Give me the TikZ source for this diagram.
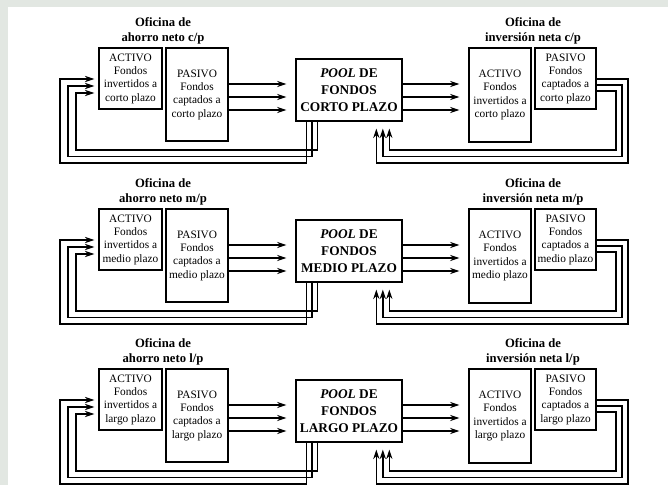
\documentclass[tikz,border=0pt]{standalone}
\usepackage{fontspec}
\setmainfont{Liberation Serif}
\usetikzlibrary{arrows.meta,calc}

\definecolor{scanedge}{RGB}{226,231,226}

\begin{document}
\begin{tikzpicture}[x=0.75pt,y=-0.75pt,
    box/.style={draw,line width=1pt,inner sep=0pt,align=center,
      font=\fontsize{8.5}{10}\selectfont},
    title/.style={align=center,font=\fontsize{9.5}{11}\selectfont\bfseries},
    poolbox/.style={box,font=\fontsize{10}{13}\selectfont\bfseries},
    flow/.style={line width=1pt,-{Stealth[length=7pt,width=4.6pt]}},
    feed/.style={line width=1pt}]

    % ---- page with its grey scan edge -------------------
    \fill[scanedge] (0,0) rectangle (668,485);
    \fill[white] (8,7) rectangle (668,485);
    \useasboundingbox (0,0) rectangle (668,485);

    \foreach \r/\dy/\per/\plazo/\PLAZO in {1/0/c/corto/CORTO,2/161/m/medio/MEDIO,3/321/l/largo/LARGO}{
    \begin{scope}[shift={(0,\dy)}]
      % ---- saving office (left) -------------------------
      \node[title] (tA\r) at (163,31) {Oficina de\\ahorro neto \per/p};
      \node[box,minimum width=47.3pt,minimum height=45.8pt] (actA\r) at (130.5,78.5)
        {ACTIVO\\Fondos\\invertidos a\\\plazo{} plazo};
      \node[box,minimum width=46.5pt,minimum height=69.8pt] (pasA\r) at (197,94.5)
        {PASIVO\\Fondos\\captados a\\\plazo{} plazo};

      % ---- the pool -------------------------------------
      \node[poolbox,minimum width=79.5pt,minimum height=46.5pt] (pool\r) at (349,90)
        {\textit{POOL} DE\\FONDOS\\\PLAZO{} PLAZO};

      % ---- investing office (right) ---------------------
      \node[title] (tI\r) at (533,31) {Oficina de\\inversión neta \per/p};
      \node[box,minimum width=46.5pt,minimum height=70.5pt] (actI\r) at (500,95)
        {ACTIVO\\Fondos\\invertidos a\\\plazo{} plazo};
      \node[box,minimum width=45.8pt,minimum height=45.8pt] (pasI\r) at (565.5,78.5)
        {PASIVO\\Fondos\\captados a\\\plazo{} plazo};

      \foreach \k in {0,1,2}{
        % ---- funds in and out of the pool ---------------
        \coordinate (lv\r\k) at ($(pool\r.west)+(0,-6+13*\k)$);
        \coordinate (rv\r\k) at ($(actI\r.west)+(0,-11+13*\k)$);
        \draw[flow,shorten >=6.75pt] (pasA\r.east |- lv\r\k) -- (lv\r\k);
        \draw[flow,shorten >=6.75pt] (pool\r.east |- rv\r\k) -- (rv\r\k);

        % ---- pool back to the saving office -------------
        \coordinate (ls\r\k) at ($(pool\r.south west)+(11+5.5*\k,0)$);
        \coordinate (lb\r\k) at ({60+8*\k},{163-6.5*\k});
        \coordinate (la\r\k) at ($(actA\r.west)+(-4,0.5+7*\k)$);
        \draw[flow] (ls\r\k) |- (lb\r\k) |- (la\r\k);

        % ---- investing office back to the pool ----------
        \coordinate (rs\r\k) at ($(pasI\r.east)+(0,0.5+6*\k)$);
        \coordinate (rb\r\k) at ({628-6*\k},{163-6.5*\k});
        \coordinate (ra\r\k) at ($(pool\r.south west)+(81+6.5*\k,7)$);
        \draw[flow] (rs\r\k) -| (rb\r\k) -| (ra\r\k);
      }
    \end{scope}
    }
\end{tikzpicture}
\end{document}
